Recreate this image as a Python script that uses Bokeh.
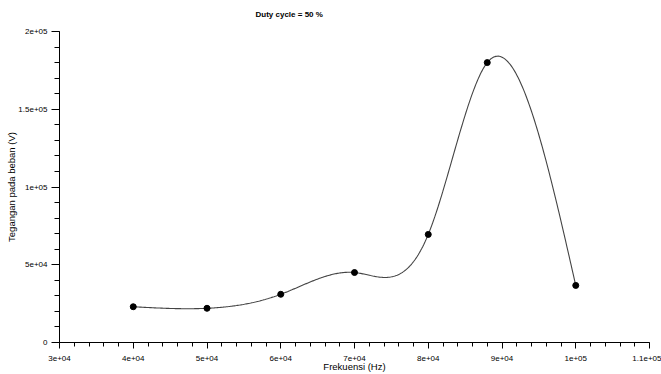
import numpy as np
from bokeh.plotting import figure
from bokeh.models import FixedTicker, Range1d, Title
from bokeh.embed import file_html
from bokeh.resources import INLINE

# ---- data ----
freq_hz = [40000, 50000, 60000, 70000, 80000, 88000, 100000]
voltage_v = [23000, 22000, 31000, 45000, 69500, 180000, 36700]

x_ticks = [30000, 40000, 50000, 60000, 70000, 80000, 90000, 100000, 110000]
x_tick_labels = ["3e+04", "4e+04", "5e+04", "6e+04", "7e+04", "8e+04", "9e+04", "1e+05", "1.1e+05"]
y_ticks = [0, 50000, 100000, 150000, 200000]
y_tick_labels = ["0", "5e+04", "1e+05", "1.5e+05", "2e+05"]

title_text = "Duty cycle = 50 %"
x_label = "Frekuensi (Hz)"
y_label = "Tegangan pada beban (V)"


def natural_spline(x, y):
    """Second derivatives of a natural cubic spline through (x, y)."""
    x = np.asarray(x, float)
    y = np.asarray(y, float)
    n = len(x)
    h = np.diff(x)
    A = np.zeros((n, n))
    r = np.zeros(n)
    A[0, 0] = 1.0
    A[-1, -1] = 1.0
    for i in range(1, n - 1):
        A[i, i - 1] = h[i - 1]
        A[i, i] = 2.0 * (h[i - 1] + h[i])
        A[i, i + 1] = h[i]
        r[i] = 6.0 * ((y[i + 1] - y[i]) / h[i] - (y[i] - y[i - 1]) / h[i - 1])
    m = np.linalg.solve(A, r)
    return x, y, m


def spline_eval(coef, u):
    x, y, m = coef
    i = np.clip(np.searchsorted(x, u, side="right") - 1, 0, len(x) - 2)
    h = x[i + 1] - x[i]
    a = (x[i + 1] - u) / h
    b = (u - x[i]) / h
    return (a * y[i] + b * y[i + 1]
            + ((a ** 3 - a) * m[i] + (b ** 3 - b) * m[i + 1]) * h * h / 6.0)


coef = natural_spline(freq_hz, voltage_v)
xs = np.linspace(freq_hz[0], freq_hz[-1], 400)
ys = spline_eval(coef, xs)

FONT = "Liberation Sans"

p = figure(width=661, height=374, output_backend="svg", toolbar_location=None,
           x_range=Range1d(30000, 110000), y_range=Range1d(0, 200000),
           min_border_left=59, min_border_right=12, min_border_top=31, min_border_bottom=30)
p.title = None
# blank spacer panel between the frame and the title, so the title sits higher
spacer = Title(text=" ", text_font=FONT, text_font_size="8px", standoff=2)
p.add_layout(spacer, "above")
t = Title(text=title_text, align="left", offset=196, text_font=FONT,
          text_font_size="8px", text_font_style="bold", text_color="black", standoff=0)
p.add_layout(t, "above")

p.outline_line_color = None
p.background_fill_color = "white"
p.border_fill_color = "white"
p.xgrid.visible = False
p.ygrid.visible = False

p.line(xs, ys, line_color="#444444", line_width=1.1)
p.scatter(freq_hz, voltage_v, size=6, marker="circle", fill_color="black", line_color="black")

xa = p.xaxis[0]
xa.ticker = FixedTicker(ticks=x_ticks, minor_ticks=list(range(30000, 110001, 2000)))
xa.major_label_overrides = dict(zip(x_ticks, x_tick_labels))
xa.axis_label = x_label
xa.axis_label_text_font = FONT
xa.axis_label_text_font_size = "9.5px"
xa.axis_label_text_font_style = "normal"
xa.axis_label_text_color = "black"
xa.axis_label_standoff = -3
xa.major_label_text_font = FONT
xa.major_label_text_font_size = "8px"
xa.major_label_text_color = "black"
xa.major_label_standoff = 7
xa.major_tick_out = 6
xa.major_tick_in = 0
xa.minor_tick_out = 4
xa.minor_tick_in = 0
xa.axis_line_color = "black"
xa.major_tick_line_color = "black"
xa.minor_tick_line_color = "black"

ya = p.yaxis[0]
ya.ticker = FixedTicker(ticks=y_ticks, minor_ticks=list(range(0, 200001, 10000)))
ya.major_label_overrides = dict(zip(y_ticks, y_tick_labels))
ya.axis_label = y_label
ya.axis_label_text_font = FONT
ya.axis_label_text_font_size = "9.5px"
ya.axis_label_text_font_style = "normal"
ya.axis_label_text_color = "black"
ya.axis_label_standoff = -2
ya.major_label_text_font = FONT
ya.major_label_text_font_size = "8px"
ya.major_label_text_color = "black"
ya.major_label_standoff = 4
ya.major_label_orientation = "horizontal"
ya.major_tick_out = 8
ya.major_tick_in = 0
ya.minor_tick_out = 5
ya.minor_tick_in = 0
ya.axis_line_color = "black"
ya.major_tick_line_color = "black"
ya.minor_tick_line_color = "black"

open("out.html", "w").write(file_html(p, INLINE))
